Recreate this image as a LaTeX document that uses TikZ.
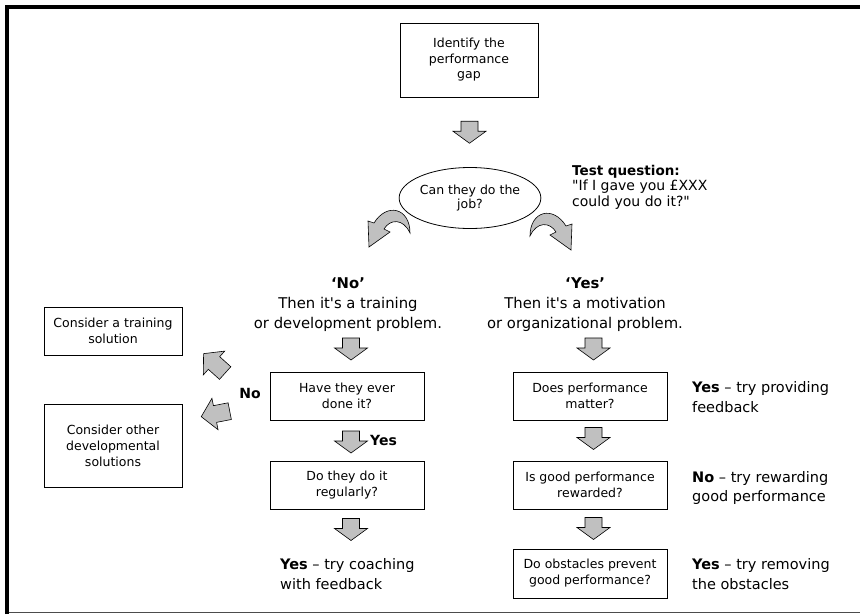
\documentclass[tikz,border=0pt]{standalone}
\usepackage{fontspec}
\setmainfont{DejaVu Sans}[Ligatures=TeXOff]
\usetikzlibrary{shapes.geometric,calc}
\definecolor{arrowfill}{HTML}{C0C0C0}
\begin{document}
\begin{tikzpicture}[x=1pt,y=-1pt,
  box/.style={draw,line width=0.8pt,align=center,inner sep=0pt,
    font=\fontsize{12.5}{16}\selectfont,minimum width=154pt,minimum height=48pt},
  heading/.style={align=center,inner sep=0pt,font=\fontsize{14.8}{20}\selectfont},
  note/.style={align=left,inner sep=0pt,anchor=west,font=\fontsize{14.5}{19.5}\selectfont},
  tag/.style={inner sep=0pt,font=\bfseries\fontsize{14}{16}\selectfont},
  blockarrow/.style={draw,line width=0.6pt,fill=arrowfill,line join=miter},
  downarrow/.pic={\path[blockarrow] (-8.5,-11) -- (8.5,-11) -- (8.5,-1) -- (16.5,-1)
      -- (0,11) -- (-16.5,-1) -- (-8.5,-1) -- cycle;},
  sidearrow/.pic={\path[blockarrow] (-8.5,-15) -- (8.5,-15) -- (8.5,0) -- (16,0)
      -- (0,14) -- (-16,0) -- (-8.5,0) -- cycle;}
]
\useasboundingbox (0,0) rectangle (860,614);

% frame
\draw[line width=4pt] (7,614) -- (7,7) -- (860,7);
\draw[line width=1pt,black!70] (9,612.5) -- (860,612.5);

% top of the flow
\node[box,minimum width=138pt,minimum height=74pt,font=\fontsize{12.5}{15.5}\selectfont]
  (gap) at (469,60) {Identify the\\performance\\gap};
\node[ellipse,draw,line width=0.8pt,inner sep=0pt,minimum width=125pt,minimum height=61pt,
  align=center,font=\fontsize{12.5}{14}\selectfont] (job) at (470,198) {Can they do the\\job?};
\node[anchor=north west,align=left,inner sep=0pt,font=\fontsize{14}{15.5}\selectfont]
  (test) at (572,165) {\textbf{\fontsize{13.5}{15.5}\selectfont Test question:}\\"If I gave you £XXX\\could you do it?"};
\pic at ($(gap.south)!0.5!(job.north)$) {downarrow};

% curved arrows leaving the question
\path[blockarrow] (410,233) .. controls (410,208) and (387,202) .. (374,223)
  -- (368,221) -- (369,247) -- (390,232) -- (384,229)
  .. controls (390,219) and (403,218) .. cycle;
\path[blockarrow] (530,236) .. controls (530,211) and (553,205) .. (566,226)
  -- (572,224) -- (571,250) -- (550,235) -- (556,232)
  .. controls (550,222) and (537,221) .. cycle;

% headings of the two branches
\node[heading] (nohead) at (348,305) {\textbf{‘No’}\\Then it's a training\\or development problem.};
\node[heading] (yeshead) at (585,305) {\textbf{‘Yes’}\\Then it's a motivation\\or organizational problem.};

% left branch
\node[box] (ever) at (347,396) {Have they ever\\done it?};
\node[box] (regular) at (347,485) {Do they do it\\regularly?};
\node[note] (coach) at (280,574) {\textbf{Yes} – try coaching\\with feedback};
\node[tag] (nolab) at (250,393) {No};
\node[tag,anchor=west] (yeslab) at (370,440) {Yes};
\pic at (351,349) {downarrow};
\pic at ($(ever.south)!0.5!(regular.north)+(4,1.5)$) {downarrow};
\pic at (351,529.5) {downarrow};

% developmental options
\node[box,minimum width=138pt] (train) at (113,331) {Consider a training\\solution};
\node[box,minimum width=138pt,minimum height=83pt] (other) at (113,445.5)
  {Consider other\\developmental\\solutions};
\pic[rotate=-132] at (214,363) {sidearrow};
\pic[rotate=-79] at (215,414) {sidearrow};

% right branch
\node[box] (matter) at (590,396) {Does performance\\matter?};
\node[box] (reward) at (590,485) {Is good performance\\rewarded?};
\node[box,minimum height=49pt] (obstacle) at (590,573.5) {Do obstacles prevent\\good performance?};
\node[note] (fb) at (692,397) {\textbf{Yes} – try providing\\feedback};
\node[note] (rew) at (692,488) {\textbf{No} – try rewarding\\good performance};
\node[note] (rem) at (692,574) {\textbf{Yes} – try removing\\the obstacles};
\pic at (593.5,349) {downarrow};
\pic at ($(matter.south)!0.5!(reward.north)+(3.5,-2)$) {downarrow};
\pic at ($(reward.south)!0.5!(obstacle.north)+(3.5,-0.5)$) {downarrow};
\end{tikzpicture}
\end{document}
